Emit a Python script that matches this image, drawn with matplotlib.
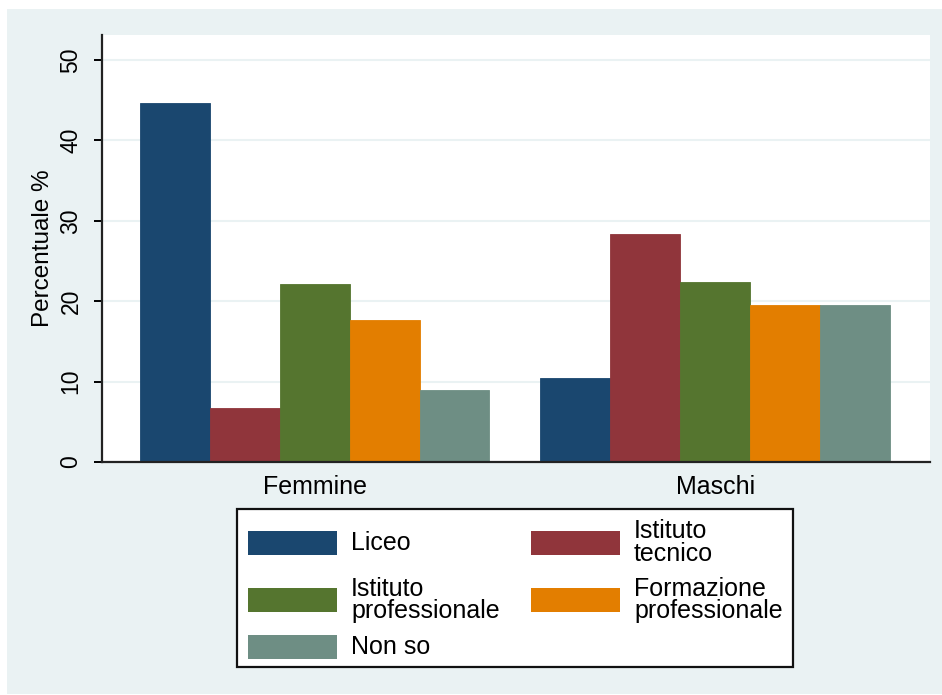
import numpy as np
import matplotlib
matplotlib.use("Agg")
import matplotlib.pyplot as plt
from matplotlib.patches import Rectangle

plt.rcParams['font.family'] = ['Liberation Sans', 'DejaVu Sans']

# data
groups = ['Femmine', 'Maschi']
series = ['Liceo', 'Istituto\ntecnico', 'Istituto\nprofessionale',
          'Formazione\nprofessionale', 'Non so']
liceo = [44.6, 10.4]
tecnico = [6.7, 28.4]
professionale = [22.1, 22.4]
formazione = [17.7, 19.5]
non_so = [9.0, 19.5]
values = [liceo, tecnico, professionale, formazione, non_so]
colors = ['#1A476F', '#90353B', '#55752F', '#E37E00', '#6E8E84']
bg = '#EAF2F3'

W, H = 942, 695
fig = plt.figure(figsize=(W / 100, H / 100), dpi=100)
fig.patch.set_facecolor('white')
# Stata-style light bluish background panel
fig.add_artist(Rectangle((7 / W, 0.0015), 1, 1 - 9 / H - 0.0015,
                         transform=fig.transFigure, facecolor=bg,
                         edgecolor='none', zorder=-10))

ax = fig.add_axes([102 / W, 1 - 462 / H, (930 - 102) / W, (462 - 35) / H])
ax.set_facecolor('white')

x = np.arange(len(groups))
w = 70 / 401
for i, (vals, col) in enumerate(zip(values, colors)):
    ax.bar(x + (i - 2) * w, vals, width=w, color=col, edgecolor=col,
           linewidth=0.6, zorder=3)

ax.set_xlim(-0.53, 1.535)
ax.set_ylim(0, 53.1)
ax.set_yticks(np.arange(0, 51, 10))
ax.set_yticklabels([str(v) for v in range(0, 51, 10)], rotation=90,
                   va='center', fontsize=16.5)
ax.set_xticks(x)
ax.set_xticklabels(groups, fontsize=18)
ax.tick_params(axis='x', length=0, pad=9)
ax.tick_params(axis='y', length=6, width=1.4, direction='out', pad=8)
ax.yaxis.grid(True, color=bg, linewidth=1.5, zorder=0)
ax.set_axisbelow(True)
for s in ['top', 'right']:
    ax.spines[s].set_visible(False)
for s in ['left', 'bottom']:
    ax.spines[s].set_linewidth(1.6)
    ax.spines[s].set_color('#222222')
    ax.spines[s].set_zorder(5)
ax.set_ylabel('Percentuale %', fontsize=17.5, labelpad=4)

# legend box drawn in pixel positions
def fx(px):
    return px / W

def fy(py):
    return 1 - py / H

fig.add_artist(Rectangle((fx(237), fy(667)), fx(793) - fx(237),
                         fy(509) - fy(667), transform=fig.transFigure,
                         facecolor='white', edgecolor='#111111',
                         linewidth=1.6))
slots = [(248, 542.5), (531, 542.5), (248, 600), (531, 600), (248, 646.5)]
for (sx, sy), lab, col in zip(slots, series, colors):
    fig.add_artist(Rectangle((fx(sx), fy(sy + 12)), fx(89), 24 / H,
                             transform=fig.transFigure, facecolor=col,
                             edgecolor='none'))
    fig.text(fx(sx + 103), fy(sy), lab, fontsize=18, va='center',
             ha='left', linespacing=0.92)

fig.savefig('out.png', dpi=100, facecolor=fig.get_facecolor())
